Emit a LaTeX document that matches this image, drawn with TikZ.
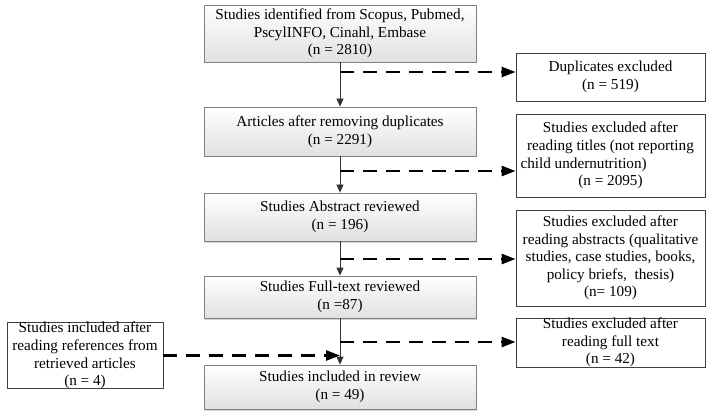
\documentclass[tikz,border=0pt]{standalone}
\usepackage{fontspec}
\setmainfont{Liberation Serif}
\usetikzlibrary{arrows.meta,shadows}
\begin{document}
\begin{tikzpicture}[x=1pt,y=-1pt,
  every node/.style={font=\fontsize{15.2}{17.6}\selectfont, align=center, inner sep=0pt},
  mainbox/.style={draw=black!50, line width=0.8pt, top color=white, bottom color=black!12,
     minimum width=272pt, drop shadow={shadow xshift=1.2pt, shadow yshift=-1.5pt, opacity=0.35}},
  sidebox/.style={draw=black!75, line width=0.8pt, fill=white, minimum width=189pt},
  solidarrow/.style={draw=black!80, line width=0.8pt, -{Triangle[length=8pt,width=7pt]}},
  dasharrow/.style={line width=2.6pt, dash pattern=on 14pt off 9pt, -{Triangle[length=14pt,width=10pt]}}
]
\useasboundingbox (0,0) rectangle (710,417);

\node[mainbox, minimum height=57pt] (b1) at (340,33.5)
  {Studies identified from Scopus, Pubmed,\\ PscylINFO, Cinahl, Embase\\ (n = 2810)};
\node[mainbox, minimum height=49pt] (b2) at (340,131.5)
  {Articles after removing duplicates\\ (n = 2291)};
\node[mainbox, minimum height=48pt] (b3) at (340,217)
  {Studies Abstract reviewed\\ (n = 196)};
\node[mainbox, minimum height=42pt] (b4) at (340,297)
  {Studies Full-text reviewed\\ (n =87)};
\node[mainbox, minimum height=44pt] (b5) at (340,387)
  {Studies included in review\\ (n = 49)};

\node[sidebox, minimum height=48pt] (r1) at (610.5,77)
  {Duplicates excluded\\ (n = 519)};
\node[sidebox, minimum height=83pt] (r2) at (610.5,155.5)
  {Studies excluded after\\ reading titles (not reporting\\ \makebox[180pt][l]{child undernutrition)}\\ (n = 2095)};
\node[sidebox, minimum height=96pt] (r3) at (610.5,258)
  {Studies excluded after\\ reading abstracts (qualitative\\ studies, case studies, books,\\ policy briefs,\ \ thesis)\\ (n= 109)};
\node[sidebox, minimum height=45pt] (r4) at (610.5,342.5)
  {Studies excluded after\\ reading full text\\ (n = 42)};

\node[sidebox, minimum width=156pt, minimum height=61pt] (L) at (85,355.5)
  {Studies included after\\ reading references from\\ retrieved articles\\ (n = 4)};

\coordinate (j1) at (340,72);
\coordinate (j2) at (340,171);
\coordinate (j3) at (340,259);
\coordinate (j4) at (340,342);

\draw[solidarrow] (b1.south) -- (b2.north);
\draw[solidarrow] (b2.south) -- (b3.north);
\draw[solidarrow] (b3.south) -- (b4.north);
\draw[solidarrow] (b4.south) -- (b5.north);

\draw[dasharrow] (j1) -- (j1 -| r1.west);
\draw[dasharrow] (j2) -- (j2 -| r2.west);
\draw[dasharrow] (j3) -- (j3 -| r3.west);
\draw[dasharrow] (j4) -- (j4 -| r4.west);
\draw[dasharrow] (L.east) -- (L.east -| b5.north);
\end{tikzpicture}
\end{document}
